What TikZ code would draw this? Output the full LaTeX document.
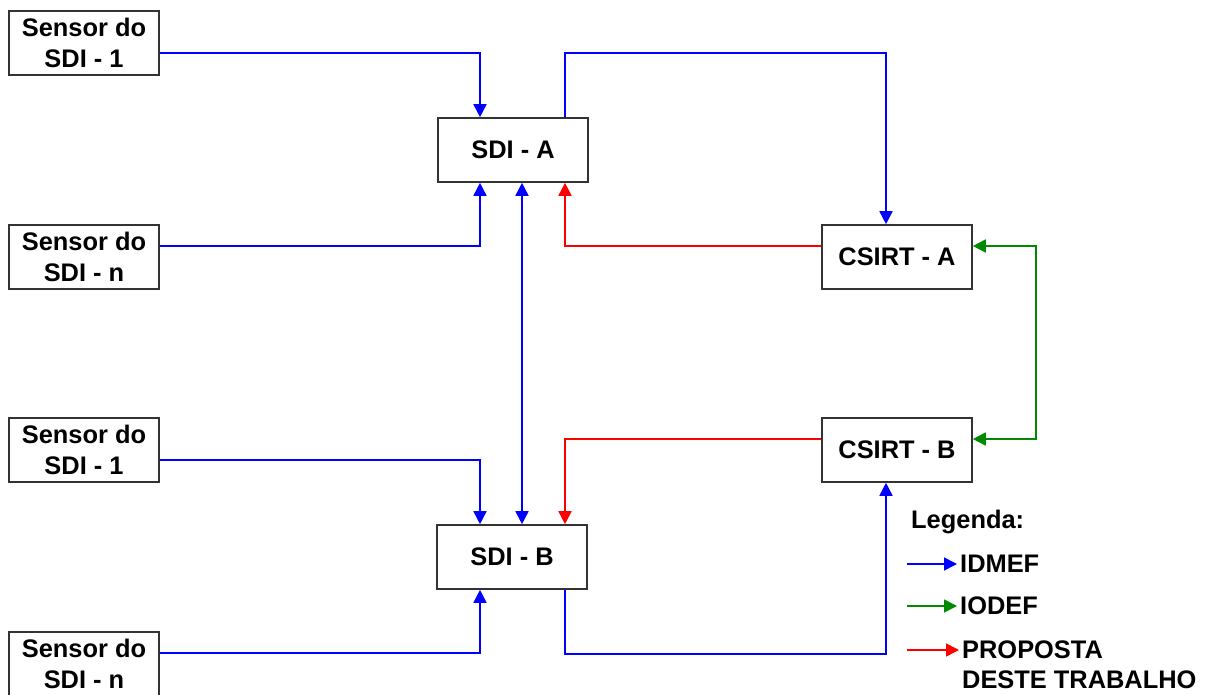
\documentclass[tikz,border=0pt]{standalone}
\usepackage{fontspec}
\setmainfont{Liberation Sans}
\usetikzlibrary{arrows.meta,calc}
\definecolor{cblue}{HTML}{0000FF}
\definecolor{cgreen}{HTML}{008A00}
\definecolor{cred}{HTML}{FF0000}
\definecolor{cbox}{HTML}{333333}
\tikzset{
  box/.style={draw=cbox, line width=1.6bp, fill=white, minimum width=150bp, minimum height=64bp,
    align=center, inner sep=0pt, font=\bfseries\fontsize{25.5}{31}\selectfont},
  conn/.style={line width=1.6bp, -{Triangle[width=13bp,length=13bp]}},
  bidir/.style={line width=1.6bp, {Triangle[width=13bp,length=13bp]}-{Triangle[width=13bp,length=13bp]}},
  legtext/.style={font=\bfseries\fontsize{25.5}{30}\selectfont, inner sep=3bp, align=left},
}
\begin{document}
\begin{tikzpicture}[x=1bp,y=-1bp]
\useasboundingbox (0,0) rectangle (1218,695);
\begin{scope}
\clip (0,0) rectangle (1218,695);
\node[box] (s1a) at (84,43) {Sensor do\\SDI - 1};
\node[box] (sdia) at (513,150) {SDI - A};
\node[box] (sna) at (84,257) {Sensor do\\SDI - n};
\node[box] (csa) at (897,257) {CSIRT - A};
\node[box] (s1b) at (84,450) {Sensor do\\SDI - 1};
\node[box] (csb) at (897,450) {CSIRT - B};
\node[box] (sdib) at (512,557) {SDI - B};
\node[box] (snb) at (84,664) {Sensor do\\SDI - n};
\end{scope}

% blue IDMEF
\draw[conn, cblue] ([yshift=-10bp]s1a.east) -| ([xshift=-33bp]sdia.north);
\draw[conn, cblue] ([yshift=11bp]sna.east) -| ([xshift=-33bp]sdia.south);
\draw[bidir, cblue] ([xshift=9bp]sdia.south) -- ([xshift=10bp]sdib.north);
\draw[conn, cblue] ([xshift=52bp]sdia.north) -- ++(0,-64) -| ([xshift=-11bp]csa.north);
\draw[conn, cblue] ([yshift=-10bp]s1b.east) -| ([xshift=-32bp]sdib.north);
\draw[conn, cblue] ([yshift=11bp]snb.east) -| ([xshift=-32bp]sdib.south);
\draw[conn, cblue] ([xshift=53bp]sdib.south) -- ++(0,64) -| ([xshift=-11bp]csb.south);
% red
\draw[conn, cred] ([yshift=11bp]csa.west) -| ([xshift=52bp]sdia.south);
\draw[conn, cred] ([yshift=11bp]csb.west) -| ([xshift=53bp]sdib.north);
% green
\draw[bidir, cgreen] ([yshift=11bp]csa.east) -- (1036,246) -- (1036,439) -- ([yshift=11bp]csb.east);

% legend
\node[legtext, anchor=west] (leg) at (908,522) {Legenda:};
\node[legtext, anchor=west] (lidmef) at (957,564) {IDMEF};
\node[legtext, anchor=west] (liodef) at (957,606) {IODEF};
\node[legtext, anchor=west] (lprop) at (959,665) {PROPOSTA\\DESTE TRABALHO};
\coordinate (la) at (907,564);
\coordinate (lb) at (907,606);
\coordinate (lc) at (907,650);
\draw[conn, cblue] (la) -- (lidmef.west);
\draw[conn, cgreen] (lb) -- (liodef.west);
\draw[conn, cred] (lc) -- (lc -| lprop.west);
\end{tikzpicture}
\end{document}
